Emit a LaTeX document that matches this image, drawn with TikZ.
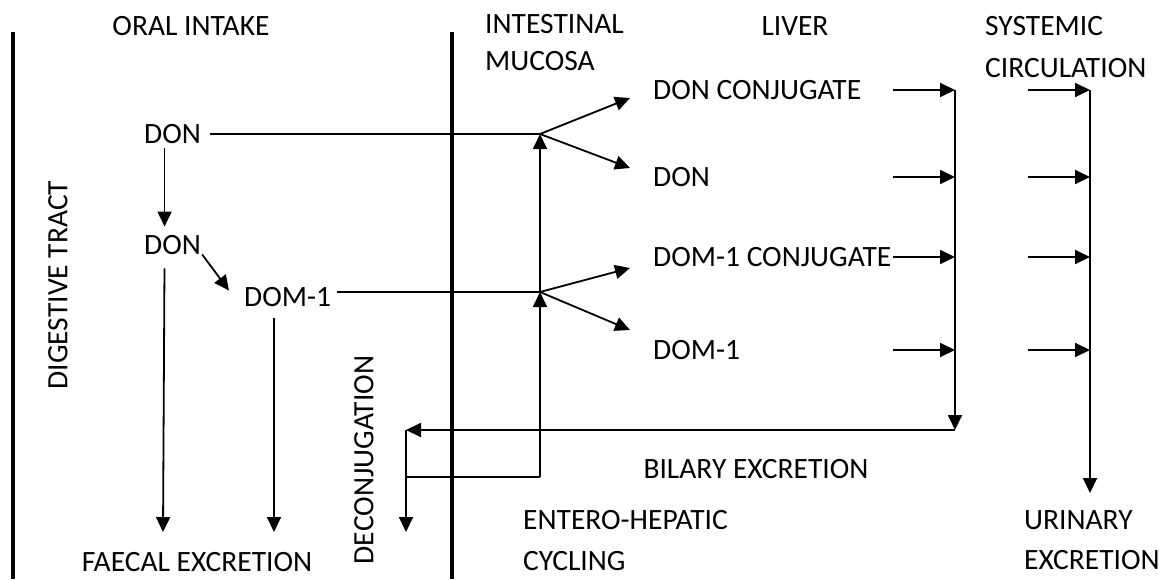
\documentclass[tikz,border=0pt]{standalone}
\usepackage{fontspec}
\setmainfont{Carlito}
\usepackage{tikz}
\usetikzlibrary{arrows.meta,positioning}

\tikzset{
    lbl/.style={inner sep=0pt, text height=18.5pt, text depth=0pt,
        font=\fontsize{29.5}{35}\selectfont},
    flow/.style={line width=1.8pt},
    arr/.style={flow, -{Triangle[length=15pt,width=14pt]}},
    wall/.style={line width=4.5pt}
}

\begin{document}
\begin{tikzpicture}[x=1pt,y=-1pt]
                \useasboundingbox (0,0) rectangle (1159,579);

                % walls of the gut
                \draw[wall] (13,32) -- (13,579);
                \draw[wall] (452,32) -- (452,579);

                % headings
                \node[lbl] (oral) at (191,26) {ORAL INTAKE};
                \node[lbl, anchor=west] (mucosaA) at (485,24) {INTESTINAL};
                \node[lbl, anchor=west] (mucosaB) at (485,61) {MUCOSA};
                \node[lbl] (liver) at (795,26) {LIVER};
                \node[lbl, anchor=west] (systemicA) at (985,26) {SYSTEMIC};
                \node[lbl, anchor=west] (systemicB) at (985,68) {CIRCULATION};
                \node[lbl, rotate=90] (tract) at (58,285) {DIGESTIVE TRACT};
                \node[lbl, rotate=90] (deconj) at (364,460) {DECONJUGATION};

                % compounds
                \node[lbl, anchor=west] (donIn) at (144,134) {DON};
                \node[lbl, anchor=west] (donGut) at (144,245) {DON};
                \node[lbl, anchor=west] (domGut) at (244,297) {DOM-1};
                \node[lbl, anchor=west] (donConj) at (653,90) {DON CONJUGATE};
                \node[lbl, anchor=west] (donLiv) at (653,177) {DON};
                \node[lbl, anchor=west] (domConj) at (653,257) {DOM-1 CONJUGATE};
                \node[lbl, anchor=west] (domLiv) at (653,350) {DOM-1};

                % outlets
                \node[lbl] (faecal) at (197,562) {FAECAL EXCRETION};
                \node[lbl] (bilary) at (756,469) {BILARY EXCRETION};
                \node[lbl, anchor=west] (enteroA) at (523,520) {ENTERO-HEPATIC};
                \node[lbl, anchor=west] (enteroB) at (523,561) {CYCLING};
                \node[lbl, anchor=west] (urinaryA) at (1024,520) {URINARY};
                \node[lbl, anchor=west] (urinaryB) at (1024,560) {EXCRETION};

                \coordinate (J1) at (540,134);
                \coordinate (J2) at (540,292);
                \coordinate (recyc) at (540,477);
                \coordinate (bileL) at (406,430);
                \coordinate (bileR) at (955,430);
                \coordinate (deconjEnd) at (406,532);
                \coordinate (faecA) at (163,532);
                \coordinate (faecB) at (274,532);
                \coordinate (lvIn) at (893,0);
                \coordinate (lvTop) at (955,90);
                \coordinate (scIn) at (1028,0);
                \coordinate (scTop) at (1090,90);
                \coordinate (scEnd) at (1090,493);

                % gut
                \draw[arr, shorten <=5pt, shorten >=9pt]
                    ([xshift=-8pt]donIn.south) -- ([xshift=-8pt]donGut.north);
                \draw[arr] ([shift={(1,0)}]donGut.south east)
                    -- ([shift={(-15,3)}]domGut.north west);
                \draw[arr, shorten <=14pt] ([xshift=-8pt]donGut.south) -- (faecA);
                \draw[arr, shorten <=12pt] (domGut.south -| faecB) -- (faecB);

                % absorption
                \draw[flow, shorten <=9pt] (donIn.east) -- (J1);
                \draw[flow, shorten <=6pt] (domGut.east |- J2) -- (J2);
                \draw[arr] (J1) -- ([shift={(-23,8)}]donConj.west);
                \draw[arr] (J1) -- ([shift={(-23,-9)}]donLiv.west);
                \draw[arr] (J2) -- ([shift={(-23,11)}]domConj.west);
                \draw[arr] (J2) -- ([shift={(-23,-20)}]domLiv.west);

                % entero-hepatic cycling
                \draw[arr] (lvTop) -- (bileR);
                \draw[arr] (bileR) -- (bileL);
                \draw[arr] (bileL) -- (deconjEnd);
                \draw[flow] (bileL |- recyc) -- (recyc);
                \draw[arr] (recyc) -- (J2);
                \draw[arr] (J2) -- (J1);

                % liver and systemic circulation
                \draw[arr] (donConj -| lvIn) -- (donConj -| lvTop);
                \draw[arr] (donLiv -| lvIn) -- (donLiv -| lvTop);
                \draw[arr] (domConj -| lvIn) -- (domConj -| lvTop);
                \draw[arr] (domLiv -| lvIn) -- (domLiv -| lvTop);
                \draw[arr] (donConj -| scIn) -- (donConj -| scTop);
                \draw[arr] (donLiv -| scIn) -- (donLiv -| scTop);
                \draw[arr] (domConj -| scIn) -- (domConj -| scTop);
                \draw[arr] (domLiv -| scIn) -- (domLiv -| scTop);
                \draw[arr] (scTop) -- (scEnd);
\end{tikzpicture}
\end{document}
